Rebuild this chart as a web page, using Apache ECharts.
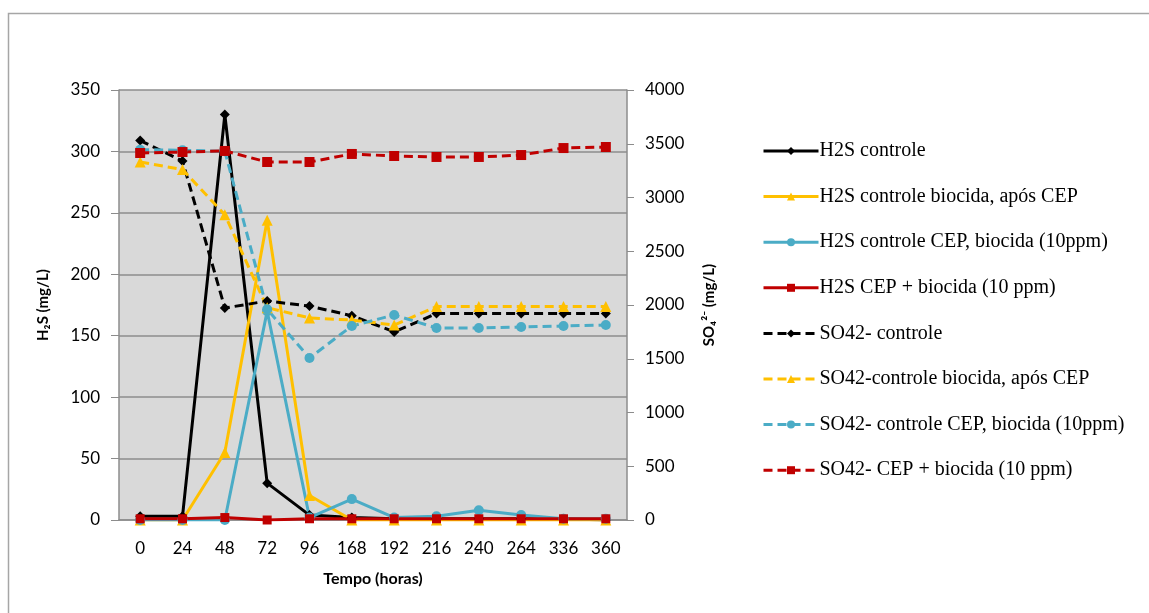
<!DOCTYPE html>
<html><head><meta charset="utf-8">
<script src="https://cdn.jsdelivr.net/npm/echarts@6/dist/echarts.min.js"></script>
<style>html,body{margin:0;padding:0;background:#fff}#c{width:1149px;height:613px}</style>
</head><body><div id="c"></div>
<script>
const categories = ['0','24','48','72','96','168','192','216','240','264','336','360'];
const h2sControle = [3, 3, 330, 30, 4, 2, 1, 1, 1, 1, 1, 0];
const h2sBiocidaAposCEP = [0, 0, 55, 244, 20, 0, 0, 0, 0, 0, 0, 0];
const h2sCEPBiocida10 = [0, 0, 0, 170, 2, 17, 2, 3, 8, 4, 1, 1];
const h2sCEPmaisBiocida = [1, 1, 2, 0, 1, 1, 1, 1, 1, 1, 1, 1];
const so4Controle = [3530, 3340, 1972, 2037, 1990, 1900, 1750, 1920, 1920, 1920, 1920, 1920];
const so4BiocidaAposCEP = [3330, 3260, 2840, 1975, 1880, 1860, 1814, 1985, 1985, 1985, 1985, 1985];
const so4CEPBiocida10 = [3445, 3440, 3430, 1960, 1507, 1805, 1907, 1786, 1786, 1795, 1805, 1814];
const so4CEPmaisBiocida = [3414, 3423, 3433, 3330, 3330, 3405, 3386, 3377, 3377, 3395, 3460, 3470];
const names = ['H2S controle','H2S controle biocida, após CEP','H2S controle CEP, biocida (10ppm)','H2S CEP + biocida (10 ppm)','SO42- controle','SO42-controle biocida, após CEP','SO42- controle CEP, biocida (10ppm)','SO42- CEP + biocida (10 ppm)'];
const leftTicks = [0,50,100,150,200,250,300,350];
const rightTicks = [0,500,1000,1500,2000,2500,3000,3500,4000];

const BLACK='#000000', YEL='#FFC000', CYAN='#4BACC6', RED='#C00000';
function ser(name, data, color, symbol, size, dashed, yi){
  return {name, type:'line', data, yAxisIndex:yi, color,
    symbol, symbolSize:size, showSymbol:true,
    lineStyle:{color, width:3, type: dashed? [9,5] : 'solid'},
    itemStyle:{color, borderWidth:0}, z: dashed?3:2, animation:false};
}
const chart = echarts.init(document.getElementById('c'));
const axFont = {fontFamily:'Lato', fontSize:17, color:'#000'};
chart.setOption({
  backgroundColor:'#fff',
  animation:false,
  graphic:[{type:'rect', shape:{x:8.5,y:13.5,width:1200,height:700}, style:{fill:'none', stroke:'#A6A6A6', lineWidth:1.5}, silent:true}],
  grid:{left:119, top:90, right:522, bottom:93, show:true, backgroundColor:'#D9D9D9', borderWidth:0},
  legend:{orient:'vertical', left:757, top:136, itemWidth:55, itemHeight:10, itemGap:25.6,
    lineStyle:{width:3},
    textStyle:{fontFamily:'Liberation Serif', fontSize:20, lineHeight:20, color:'#000', padding:[0,0,0,-4]},
    data:names},
  xAxis:{type:'category', data:categories, boundaryGap:true,
    axisLine:{show:true, lineStyle:{color:'#8C8C8C', width:1.5}},
    axisTick:{show:false},
    axisLabel:Object.assign({margin:20}, axFont),
    name:'Tempo (horas)', nameLocation:'middle', nameGap:51,
    nameTextStyle:{fontFamily:'Lato', fontWeight:'bold', fontSize:16, color:'#000'}},
  yAxis:[
    {type:'value', min:0, max:350, interval:50, position:'left',
     axisLine:{show:true, lineStyle:{color:'#8C8C8C', width:1.5}},
     axisTick:{show:true, length:8, lineStyle:{color:'#8C8C8C'}},
     splitLine:{show:true, lineStyle:{color:'#8C8C8C', width:1.5}},
     axisLabel:Object.assign({margin:19, formatter:v=>String(v)}, axFont),
     name:'H₂S (mg/L)', nameLocation:'middle', nameGap:68, nameRotate:90,
     nameTextStyle:{fontFamily:'Lato', fontWeight:'bold', fontSize:15, color:'#000'}},
    {type:'value', min:0, max:4000, interval:500, position:'right',
     axisLine:{show:true, lineStyle:{color:'#8C8C8C', width:1.5}},
     axisTick:{show:true, length:7, lineStyle:{color:'#8C8C8C'}},
     splitLine:{show:false},
     axisLabel:Object.assign({margin:18, formatter:v=>String(v)}, axFont),
     name:'SO₄²⁻ (mg/L)', nameLocation:'middle', nameGap:75, nameRotate:90,
     nameTextStyle:{fontFamily:'Lato', fontWeight:'bold', fontSize:15, color:'#000'}}
  ],
  series:[
    ser(names[0], h2sControle, BLACK, 'diamond', 10, false, 0),
    ser(names[1], h2sBiocidaAposCEP, YEL, 'triangle', 11, false, 0),
    ser(names[2], h2sCEPBiocida10, CYAN, 'circle', 10, false, 0),
    ser(names[3], h2sCEPmaisBiocida, RED, 'rect', 9, false, 0),
    ser(names[4], so4Controle, BLACK, 'diamond', 10, true, 1),
    ser(names[5], so4BiocidaAposCEP, YEL, 'triangle', 11, true, 1),
    ser(names[6], so4CEPBiocida10, CYAN, 'circle', 10, true, 1),
    ser(names[7], so4CEPmaisBiocida, RED, 'rect', 10, true, 1)
  ]
});
</script></body></html>
